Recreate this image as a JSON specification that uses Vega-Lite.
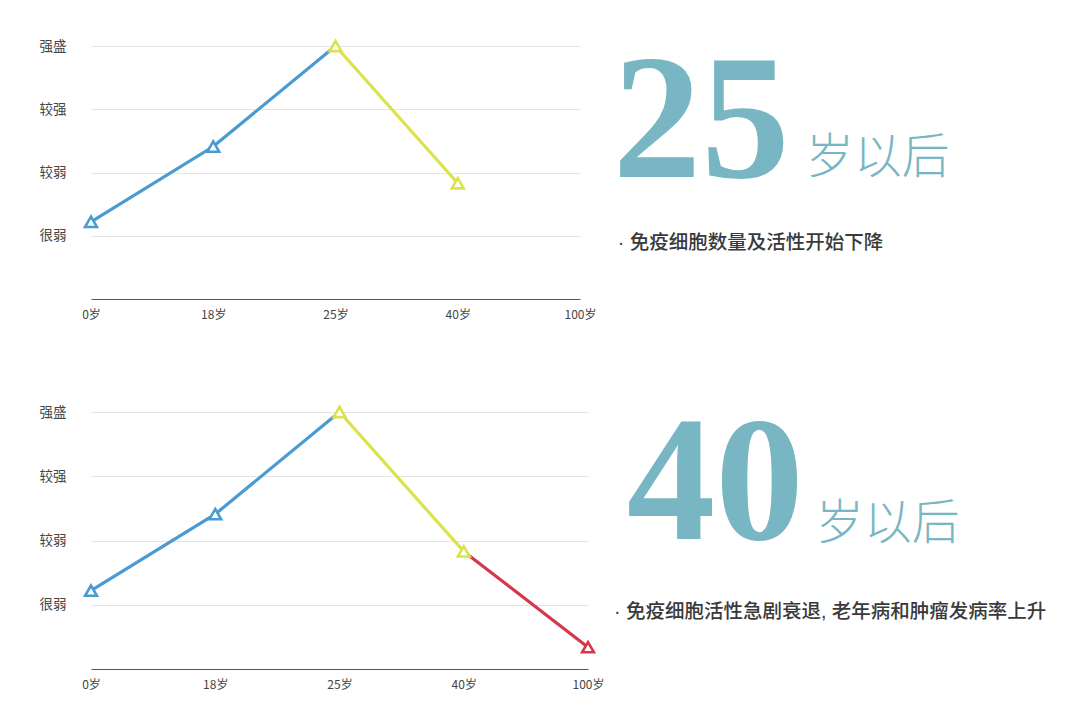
{
  "$schema": "https://vega.github.io/schema/vega-lite/v6.json",
  "description": "免疫力随年龄变化：25岁以后与40岁以后",
  "background": "white",
  "padding": {"left": 39, "top": 35, "right": 0, "bottom": 0},
  "config": {
    "view": {"stroke": null},
    "font": "Noto Sans CJK SC",
    "axis": {"labelFont": "Noto Sans CJK SC", "labelColor": "#444444"}
  },
  "datasets": {
    "curve": [
      {"chart": "25岁以后", "phase": "上升", "age": "0岁", "level": 1.22},
      {"chart": "25岁以后", "phase": "上升", "age": "18岁", "level": 2.41},
      {"chart": "25岁以后", "phase": "上升", "age": "25岁", "level": 4},
      {"chart": "25岁以后", "phase": "下降", "age": "25岁", "level": 4},
      {"chart": "25岁以后", "phase": "下降", "age": "40岁", "level": 1.83},
      {"chart": "40岁以后", "phase": "上升", "age": "0岁", "level": 1.22},
      {"chart": "40岁以后", "phase": "上升", "age": "18岁", "level": 2.41},
      {"chart": "40岁以后", "phase": "上升", "age": "25岁", "level": 4},
      {"chart": "40岁以后", "phase": "下降", "age": "25岁", "level": 4},
      {"chart": "40岁以后", "phase": "下降", "age": "40岁", "level": 1.83},
      {"chart": "40岁以后", "phase": "衰退", "age": "40岁", "level": 1.83},
      {"chart": "40岁以后", "phase": "衰退", "age": "100岁", "level": 0.34}
    ],
    "markers": [
      {"chart": "25岁以后", "phase": "上升", "age": "0岁", "level": 1.22},
      {"chart": "25岁以后", "phase": "上升", "age": "18岁", "level": 2.41},
      {"chart": "25岁以后", "phase": "下降", "age": "25岁", "level": 4},
      {"chart": "25岁以后", "phase": "下降", "age": "40岁", "level": 1.83},
      {"chart": "40岁以后", "phase": "上升", "age": "0岁", "level": 1.22},
      {"chart": "40岁以后", "phase": "上升", "age": "18岁", "level": 2.41},
      {"chart": "40岁以后", "phase": "下降", "age": "25岁", "level": 4},
      {"chart": "40岁以后", "phase": "下降", "age": "40岁", "level": 1.83},
      {"chart": "40岁以后", "phase": "衰退", "age": "100岁", "level": 0.34}
    ],
    "notes": [
      {"chart": "25岁以后", "start": "25", "unit": "岁以后", "note": "· 免疫细胞数量及活性开始下降"},
      {"chart": "40岁以后", "start": "40", "unit": "岁以后", "note": "· 免疫细胞活性急剧衰退, 老年病和肿瘤发病率上升"}
    ]
  },
  "columns": 2,
  "bounds": "flush",
  "spacing": {"row": 113, "column": 20},
  "concat": [
    {
      "width": 489,
      "height": 253,
      "layer": [
        {
          "data": {"name": "curve"},
          "transform": [{"filter": "datum.chart == '25岁以后'"}],
          "mark": {"type": "line", "strokeWidth": 3.2, "strokeCap": "round"},
          "encoding": {
            "x": {"field": "age", "type": "ordinal", "title": null,
              "scale": {"type": "point", "domain": ["0岁", "18岁", "25岁", "40岁", "100岁"], "padding": 0},
              "axis": {"domain": true, "domainColor": "#555555", "ticks": false, "tickSize": 0, "labelPadding": 10, "labelAngle": 0, "labelFontSize": 12, "grid": false}},
            "y": {"field": "level", "type": "quantitative", "title": null,
              "scale": {"domain": [0, 4], "nice": false},
              "axis": {"values": [1, 2, 3, 4], "labelExpr": "['','很弱','较弱','较强','强盛'][datum.value]", "domain": false, "ticks": false, "tickSize": 0, "labelPadding": 25, "labelFontSize": 13.5, "gridColor": "#e4e4e4"}},
            "color": {"field": "phase", "type": "nominal", "legend": null,
              "scale": {"domain": ["上升", "下降", "衰退"], "range": ["#4a9bd1", "#dce24c", "#d5384c"]}},
            "detail": {"field": "phase"}
          }
        },
        {
          "data": {"name": "markers"},
          "transform": [{"filter": "datum.chart == '25岁以后'"}],
          "mark": {"type": "point", "shape": "triangle-up", "size": 140, "strokeWidth": 2.6, "fill": "white", "fillOpacity": 1, "opacity": 1},
          "encoding": {
            "x": {"field": "age", "type": "ordinal"},
            "y": {"field": "level", "type": "quantitative"},
            "stroke": {"field": "phase", "type": "nominal", "legend": null,
              "scale": {"domain": ["上升", "下降", "衰退"], "range": ["#4a9bd1", "#dce24c", "#d5384c"]}}
          }
        }
      ]
    },
    {
      "width": 470,
      "height": 253,
      "data": {"name": "notes"},
      "transform": [{"filter": "datum.chart == '25岁以后'"}],
      "layer": [
        {
          "mark": {"type": "text", "font": "Liberation Serif", "fontWeight": "bold", "fontSize": 177, "align": "left", "baseline": "alphabetic", "color": "#79b6c3"},
          "encoding": {
            "text": {"field": "start"},
            "x": {"datum": 1.0, "type": "quantitative", "scale": {"domain": [0, 100], "nice": false}, "axis": null},
            "y": {"datum": 48.2, "type": "quantitative", "scale": {"domain": [0, 100], "nice": false}, "axis": null}
          }
        },
        {
          "mark": {"type": "text", "font": "Noto Sans CJK SC", "fontWeight": 300, "fontSize": 48, "align": "left", "baseline": "alphabetic", "color": "#79b6c3"},
          "encoding": {
            "text": {"field": "unit"},
            "x": {"datum": 42.1, "type": "quantitative"},
            "y": {"datum": 49.8, "type": "quantitative"}
          }
        },
        {
          "mark": {"type": "text", "font": "Liberation Sans, Noto Sans CJK SC", "fontWeight": 500, "fontSize": 19.5, "align": "left", "baseline": "middle", "color": "#3a3a3a"},
          "encoding": {
            "text": {"field": "note"},
            "x": {"datum": 2.1, "type": "quantitative"},
            "y": {"datum": 22.1, "type": "quantitative"}
          }
        }
      ]
    },
    {
      "width": 497,
      "height": 257,
      "layer": [
        {
          "data": {"name": "curve"},
          "transform": [{"filter": "datum.chart == '40岁以后'"}],
          "mark": {"type": "line", "strokeWidth": 3.2, "strokeCap": "round"},
          "encoding": {
            "x": {"field": "age", "type": "ordinal", "title": null,
              "scale": {"type": "point", "domain": ["0岁", "18岁", "25岁", "40岁", "100岁"], "padding": 0},
              "axis": {"domain": true, "domainColor": "#555555", "ticks": false, "tickSize": 0, "labelPadding": 10, "labelAngle": 0, "labelFontSize": 12, "grid": false}},
            "y": {"field": "level", "type": "quantitative", "title": null,
              "scale": {"domain": [0, 4], "nice": false},
              "axis": {"values": [1, 2, 3, 4], "labelExpr": "['','很弱','较弱','较强','强盛'][datum.value]", "domain": false, "ticks": false, "tickSize": 0, "labelPadding": 25, "labelFontSize": 13.5, "gridColor": "#e4e4e4"}},
            "color": {"field": "phase", "type": "nominal", "legend": null,
              "scale": {"domain": ["上升", "下降", "衰退"], "range": ["#4a9bd1", "#dce24c", "#d5384c"]}},
            "detail": {"field": "phase"}
          }
        },
        {
          "data": {"name": "markers"},
          "transform": [{"filter": "datum.chart == '40岁以后'"}],
          "mark": {"type": "point", "shape": "triangle-up", "size": 140, "strokeWidth": 2.6, "fill": "white", "fillOpacity": 1, "opacity": 1},
          "encoding": {
            "x": {"field": "age", "type": "ordinal"},
            "y": {"field": "level", "type": "quantitative"},
            "stroke": {"field": "phase", "type": "nominal", "legend": null,
              "scale": {"domain": ["上升", "下降", "衰退"], "range": ["#4a9bd1", "#dce24c", "#d5384c"]}}
          }
        }
      ]
    },
    {
      "width": 470,
      "height": 257,
      "data": {"name": "notes"},
      "transform": [{"filter": "datum.chart == '40岁以后'"}],
      "layer": [
        {
          "mark": {"type": "text", "font": "Liberation Serif", "fontWeight": "bold", "fontSize": 177, "align": "left", "baseline": "alphabetic", "color": "#79b6c3"},
          "encoding": {
            "text": {"field": "start"},
            "x": {"datum": 4.0, "type": "quantitative", "scale": {"domain": [0, 100], "nice": false}, "axis": null},
            "y": {"datum": 50.5, "type": "quantitative", "scale": {"domain": [0, 100], "nice": false}, "axis": null}
          }
        },
        {
          "mark": {"type": "text", "font": "Noto Sans CJK SC", "fontWeight": 300, "fontSize": 48, "align": "left", "baseline": "alphabetic", "color": "#79b6c3"},
          "encoding": {
            "text": {"field": "unit"},
            "x": {"datum": 44.2, "type": "quantitative"},
            "y": {"datum": 50.6, "type": "quantitative"}
          }
        },
        {
          "mark": {"type": "text", "font": "Liberation Sans, Noto Sans CJK SC", "fontWeight": 500, "fontSize": 19.5, "align": "left", "baseline": "middle", "color": "#3a3a3a"},
          "encoding": {
            "text": {"field": "note"},
            "x": {"datum": 1.3, "type": "quantitative"},
            "y": {"datum": 22.2, "type": "quantitative"}
          }
        }
      ]
    }
  ]
}
